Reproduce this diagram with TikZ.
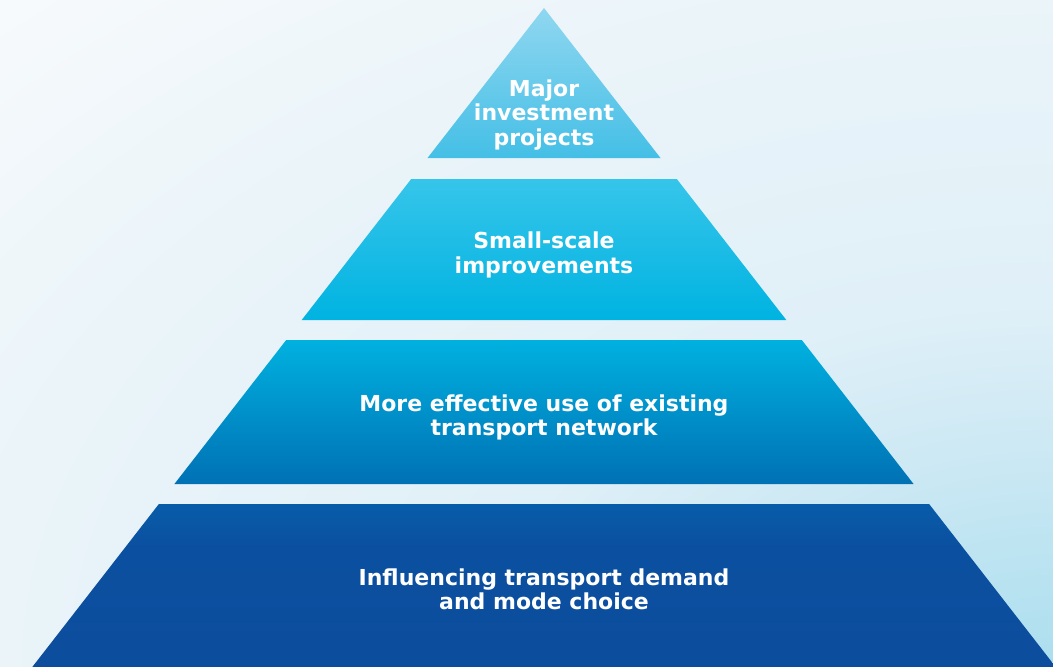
\documentclass[tikz,border=0pt]{standalone}
\usepackage{fontspec}
\setmainfont{DejaVu Sans}
\begin{document}
\begin{tikzpicture}[x=1pt,y=-1pt,
  tiertext/.style={text=white,font=\fontsize{22}{24.3}\selectfont\bfseries,align=center,inner sep=0pt}]
\definecolor{bg0}{HTML}{ACDEEE}
\definecolor{bg1}{HTML}{D3EBF5}
\definecolor{bg2}{HTML}{E0F0F8}
\definecolor{bg3}{HTML}{EAF4F9}
\definecolor{bg4}{HTML}{F7FAFC}
\definecolor{aTop}{HTML}{90D7F0}
\definecolor{aBot}{HTML}{44BFE6}
\definecolor{bTop}{HTML}{36C5EA}
\definecolor{bBot}{HTML}{00B3E1}
\definecolor{cTop}{HTML}{00B1E0}
\definecolor{cBot}{HTML}{0071B4}
\definecolor{dTop}{HTML}{0074BA}
\definecolor{dMid}{HTML}{0B50A0}
\definecolor{dBot}{HTML}{0F4A9B}
\pgfdeclareverticalshading{baseshade}{100bp}{color(0bp)=(dBot); color(62bp)=(dMid); color(100bp)=(dTop)}
\pgfdeclareradialshading{bgglow}{\pgfpoint{0bp}{0bp}}{color(0bp)=(bg0); color(6.7bp)=(bg1); color(9.2bp)=(bg2); color(16.7bp)=(bg3); color(23.5bp)=(bg4); color(50bp)=(bg4)}
% background: pale glow rising from the lower right corner
\useasboundingbox (0,0) rectangle (1053,667);
\begin{scope}
  \clip (0,0) rectangle (1053,667);
  \fill[bg4] (0,0) rectangle (1053,667);
  \shade[shading=bgglow] (1053,667) ellipse [x radius=1580, y radius=1000];
\end{scope}
% pyramid tiers: slices of one triangle with apex at (544,8)
\shade[top color=aTop,bottom color=aBot] (544,8) -- (660.5,158) -- (427.5,158) -- cycle;
\shade[top color=bTop,bottom color=bBot] (411.2,179) -- (676.8,179) -- (786.3,320) -- (301.7,320) -- cycle;
\shade[top color=cTop,bottom color=cBot] (286.2,340) -- (801.8,340) -- (913.6,484) -- (174.4,484) -- cycle;
\shade[shading=baseshade] (158.9,504) -- (929.1,504) -- (1055.7,667) -- (32.3,667) -- cycle;
% labels
\node[tiertext] (t1) at (544,115) {Major\\investment\\projects};
\node[tiertext] (t2) at (544,255) {Small-scale\\improvements};
\node[tiertext] (t3) at (544,417.5) {More effective use of existing\\transport network};
\node[tiertext] (t4) at (544,589) {Influencing transport demand\\and mode choice};
\end{tikzpicture}
\end{document}
